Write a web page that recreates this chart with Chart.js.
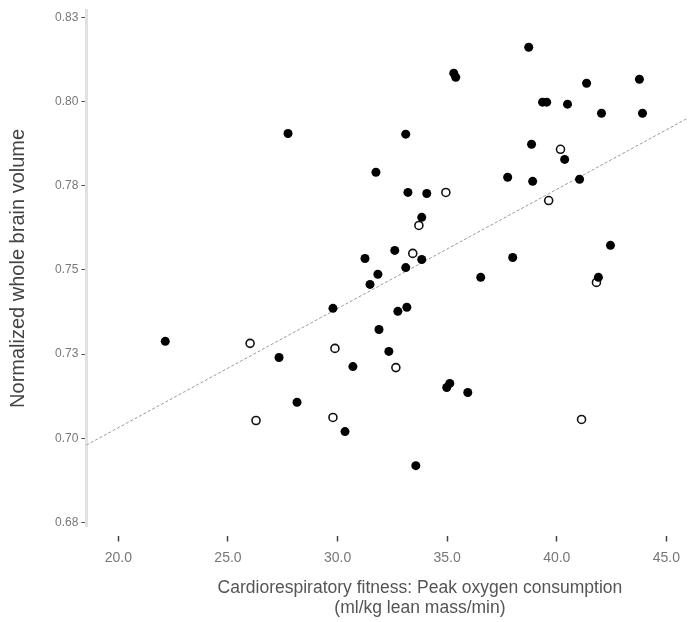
<!DOCTYPE html>
<html>
<head>
<meta charset="utf-8">
<script src="https://cdn.jsdelivr.net/npm/chart.js@4.4.1/dist/chart.umd.min.js"></script>
<style>
  html, body { margin: 0; padding: 0; background: #fff; }
  #wrap { width: 688px; height: 622px; }
</style>
</head>
<body>
<div id="wrap"><canvas id="chart" width="688" height="622"></canvas></div>
<script>
// axis ticks
const xTicks = [20, 25, 30, 35, 40, 45];
const yTicks = [0.675, 0.70, 0.725, 0.75, 0.775, 0.80, 0.825];
const yTickLabels = ['0.68', '0.70', '0.73', '0.75', '0.78', '0.80', '0.83'];
const xTitleLines = ['Cardiorespiratory fitness: Peak oxygen consumption', '(ml/kg lean mass/min)'];

// filled circles
const filledFitness = [22.14, 27.33, 28.15, 27.74, 29.79, 30.34, 30.70, 31.25, 31.48, 31.84,
  31.89, 31.75, 32.34, 32.61, 32.75, 33.16, 33.11, 33.11, 33.21, 33.57,
  33.84, 33.84, 34.07, 34.98, 35.12, 35.94, 35.30, 35.39, 36.53, 37.76,
  37.99, 38.72, 38.85, 38.90, 39.35, 39.54, 40.36, 40.49, 41.04, 41.36,
  41.90, 42.04, 42.45, 43.77, 43.91];
const filledVolume = [0.7288, 0.7240, 0.7107, 0.7905, 0.7386, 0.7020, 0.7213, 0.7534, 0.7457, 0.7487,
  0.7323, 0.7790, 0.7258, 0.7558, 0.7377, 0.7389, 0.7507, 0.7903, 0.7730, 0.6919,
  0.7656, 0.7531, 0.7727, 0.7151, 0.7163, 0.7136, 0.8084, 0.8072, 0.7478, 0.7775,
  0.7537, 0.8161, 0.7873, 0.7763, 0.7998, 0.7998, 0.7828, 0.7992, 0.7769, 0.8054,
  0.7478, 0.7965, 0.7573, 0.8066, 0.7965];

// open circles
const openFitness = [26.01, 26.28, 29.79, 29.88, 32.66, 33.43, 33.71, 34.94, 39.63, 40.17, 41.13, 41.81];
const openVolume = [0.7282, 0.7053, 0.7062, 0.7267, 0.7210, 0.7549, 0.7632, 0.7730, 0.7706, 0.7858, 0.7056, 0.7463];

// regression line end points
const fitX = [18.54, 45.96];
const fitY = [0.698, 0.795];

const toPoints = (xs, ys) => xs.map((x, i) => ({ x: x, y: ys[i] }));
const font = 'Liberation Sans, Arial, sans-serif';

// x axis title sits a bit right of the plot centre in the original
const xTitlePlugin = {
  id: 'xTitle',
  afterDraw(chart) {
    const { ctx, chartArea } = chart;
    const cx = chartArea.left + (chartArea.right - chartArea.left) * 0.555;
    ctx.save();
    ctx.font = '17.5px ' + font;
    ctx.fillStyle = '#555';
    ctx.textAlign = 'center';
    ctx.textBaseline = 'middle';
    xTitleLines.forEach((line, i) => ctx.fillText(line, cx, chartArea.bottom + 62 + i * 20));
    ctx.restore();
  }
};

new Chart(document.getElementById('chart'), {
  type: 'scatter',
  data: {
    datasets: [
      {
        data: toPoints(filledFitness, filledVolume),
        pointRadius: 4.5,
        backgroundColor: '#000',
        borderColor: '#000',
        borderWidth: 0
      },
      {
        data: toPoints(openFitness, openVolume),
        pointRadius: 4,
        backgroundColor: '#fff',
        borderColor: '#111',
        borderWidth: 1.6
      },
      {
        type: 'line',
        data: toPoints(fitX, fitY),
        borderColor: '#9a9a9a',
        borderWidth: 1,
        borderDash: [3, 2],
        pointRadius: 0,
        fill: false
      }
    ]
  },
  options: {
    responsive: false,
    animation: false,
    layout: { autoPadding: false, padding: { top: 10, right: 0, bottom: 47.6, left: 6 } },
    plugins: {
      legend: { display: false },
      tooltip: { enabled: false }
    },
    scales: {
      x: {
        type: 'linear',
        min: 18.54,
        max: 45.96,
        afterBuildTicks: (axis) => { axis.ticks = xTicks.map(v => ({ value: v })); },
        border: { display: false },
        grid: {
          drawOnChartArea: false,
          tickLength: 15,
          tickColor: '#444',
          tickWidth: 1.5,
          tickBorderDash: [0, 9, 6, 100]
        },
        ticks: {
          color: '#777',
          font: { family: font, size: 14 },
          padding: 8,
          maxRotation: 0,
          callback: (v) => v.toFixed(1)
        },
        title: { display: false }
      },
      y: {
        type: 'linear',
        min: 0.6738,
        max: 0.8271,
        afterBuildTicks: (axis) => { axis.ticks = yTicks.map(v => ({ value: v })); },
        border: { display: true, color: '#e2e2e2', width: 3 },
        grid: {
          drawOnChartArea: false,
          tickLength: 5,
          tickColor: '#555',
          tickWidth: 1
        },
        ticks: {
          color: '#777',
          font: { family: font, size: 12 },
          padding: 3,
          callback: (v, i) => yTickLabels[i]
        },
        title: {
          display: true,
          text: 'Normalized whole brain volume',
          color: '#444',
          font: { family: font, size: 20 },
          padding: { top: 0, bottom: 22 }
        }
      }
    }
  },
  plugins: [xTitlePlugin]
});
</script>
</body>
</html>
